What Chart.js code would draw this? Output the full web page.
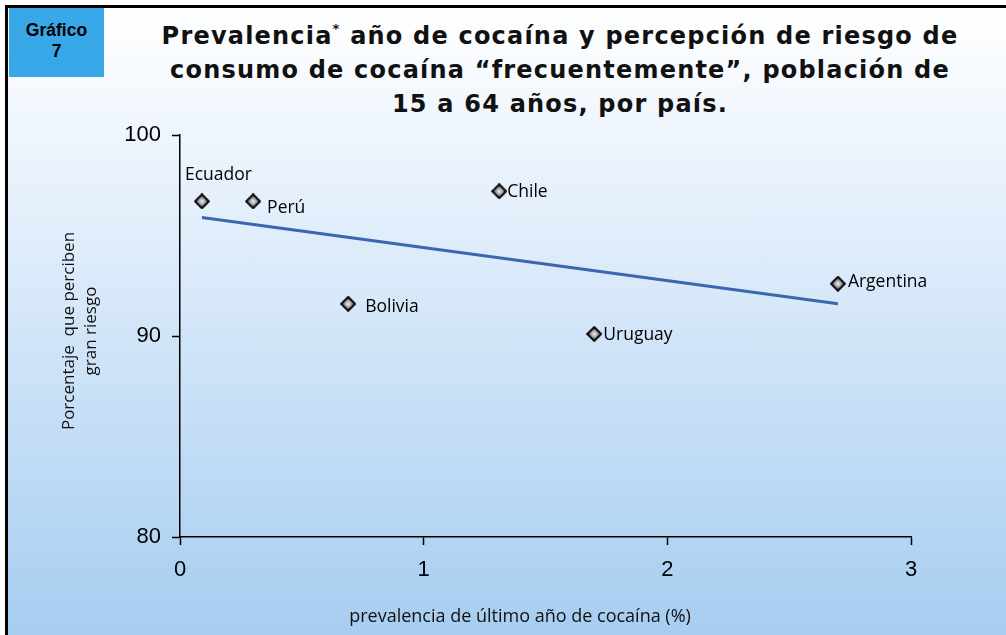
<!DOCTYPE html>
<html>
<head>
<meta charset="utf-8">
<script src="https://cdn.jsdelivr.net/npm/chart.js@4/dist/chart.umd.min.js"></script>
<style>
  body { margin: 0; width: 1006px; height: 635px; overflow: hidden; background: #fff; }
  #marco {
    position: absolute; left: 5px; top: 5px; width: 1020px; height: 650px;
    border: 3px solid #000;
    background: linear-gradient(to bottom, #ffffff 0%, #eef5fd 20%, #a3cbf0 100%);
  }
  #etiqueta {
    position: absolute; left: 9px; top: 8px; width: 95px; height: 69px;
    background: #38a8e8; font: bold 17.5px "Liberation Sans", Arial, sans-serif;
    text-align: center; line-height: 21px; padding-top: 12px; box-sizing: border-box; color: #000;
  }
  #titulo {
    position: absolute; left: 60px; width: 1000px; top: 19px;
    font: bold 24px "DejaVu Sans", sans-serif; letter-spacing: 1.2px;
    line-height: 34px; text-align: center; color: #111;
  }
  #titulo sup { font-size: 13px; vertical-align: 11px; line-height: 0; }
  canvas { position: absolute; left: 0; top: 0; }
</style>
</head>
<body>
<div id="marco"></div>
<div id="etiqueta">Gráfico<br>7</div>
<div id="titulo">Prevalencia<sup>*</sup> año de cocaína y percepción de riesgo de<br>consumo de cocaína “frecuentemente”, población de<br>15 a 64 años, por país.</div>
<canvas id="grafico" width="1006" height="635"></canvas>
<script>
  // Datos.
  const paises = ['Ecuador', 'Perú', 'Chile', 'Bolivia', 'Uruguay', 'Argentina'];
  const prevalencia = [0.09, 0.30, 1.31, 0.69, 1.70, 2.70];
  const riesgo = [96.7, 96.7, 97.2, 91.6, 90.1, 92.6];
  const tendenciaX = [0.09, 2.70];
  const tendenciaY = [95.9, 91.6];
  const ticksX = [0, 1, 2, 3];
  const ticksY = [80, 90, 100];

  // Marcador en forma de rombo con relleno degradado.
  function rombo() {
    const c = document.createElement('canvas');
    c.width = 16; c.height = 16;
    const g = c.getContext('2d');
    const grad = g.createRadialGradient(8, 8, 0, 8, 8, 7);
    grad.addColorStop(0, '#f4f4f4');
    grad.addColorStop(0.5, '#999');
    grad.addColorStop(1, '#2e2e2e');
    g.beginPath();
    g.moveTo(8, 1); g.lineTo(15, 8); g.lineTo(8, 15); g.lineTo(1, 8);
    g.closePath();
    g.fillStyle = grad;
    g.fill();
    g.lineWidth = 1.8;
    g.strokeStyle = '#000';
    g.stroke();
    return c;
  }

  // Nombres de país junto a cada punto.
  const etiquetasPlugin = {
    id: 'etiquetas',
    afterDatasetsDraw(chart, args, opts) {
      const ctx = chart.ctx;
      const meta = chart.getDatasetMeta(1);
      ctx.save();
      ctx.font = '17.5px "Open Sans", sans-serif';
      ctx.fillStyle = '#000';
      ctx.textBaseline = 'middle';
      ctx.textAlign = 'left';
      meta.data.forEach((pt, i) => {
        const d = opts.desplazamientos[paises[i]] || [8, 0];
        ctx.fillText(paises[i], pt.x + d[0], pt.y + d[1]);
      });
      ctx.restore();
    }
  };

  // Títulos de los ejes.
  const titulosPlugin = {
    id: 'titulos',
    afterDraw(chart) {
      const ctx = chart.ctx;
      ctx.save();
      ctx.fillStyle = '#111';
      ctx.textAlign = 'center';
      ctx.textBaseline = 'middle';
      ctx.font = '18px "Open Sans", sans-serif';
      ctx.fillText('prevalencia de último año de cocaína (%)', 520, 617);
      ctx.translate(80, 331);
      ctx.rotate(-Math.PI / 2);
      ctx.font = '17px "Open Sans", sans-serif';
      ctx.fillText('Porcentaje  que perciben', 0, -11);
      ctx.fillText('gran riesgo', 0, 11);
      ctx.restore();
    }
  };

  const ejeComun = {
    border: { color: '#000', width: 1.5 },
    grid: { drawOnChartArea: false, drawTicks: true, tickLength: 8, tickColor: '#000', tickWidth: 1.5 },
    ticks: { color: '#000', font: { family: '"Liberation Sans", Arial', size: 22 } }
  };

  new Chart(document.getElementById('grafico'), {
    type: 'scatter',
    data: {
      datasets: [
        {
          type: 'line',
          data: tendenciaX.map((x, i) => ({ x: x, y: tendenciaY[i] })),
          borderColor: '#3b66b1',
          borderWidth: 3,
          pointRadius: 0,
          fill: false
        },
        {
          data: prevalencia.map((x, i) => ({ x: x, y: riesgo[i] })),
          pointStyle: rombo(),
          pointRadius: 7
        }
      ]
    },
    options: {
      responsive: false,
      animation: false,
      layout: { padding: { top: 135, right: 95, bottom: 0, left: 0 } },
      plugins: {
        legend: { display: false },
        tooltip: { enabled: false },
        etiquetas: {
          desplazamientos: {
            'Ecuador': [-17, -26],
            'Perú': [14, 7],
            'Chile': [8, 1],
            'Bolivia': [17, 3],
            'Uruguay': [9, 1],
            'Argentina': [10, -2]
          }
        }
      },
      scales: {
        x: {
          ...ejeComun,
          type: 'linear',
          min: ticksX[0],
          max: ticksX[ticksX.length - 1],
          afterBuildTicks: s => { s.ticks = ticksX.map(v => ({ value: v })); },
          afterFit: s => { s.height = 98; },
          ticks: { ...ejeComun.ticks, padding: 12 }
        },
        y: {
          ...ejeComun,
          min: ticksY[0],
          max: ticksY[ticksY.length - 1],
          afterBuildTicks: s => { s.ticks = ticksY.map(v => ({ value: v })); },
          afterFit: s => { s.width = 180; },
          ticks: { ...ejeComun.ticks, padding: 11 }
        }
      }
    },
    plugins: [etiquetasPlugin, titulosPlugin]
  });
</script>
</body>
</html>
